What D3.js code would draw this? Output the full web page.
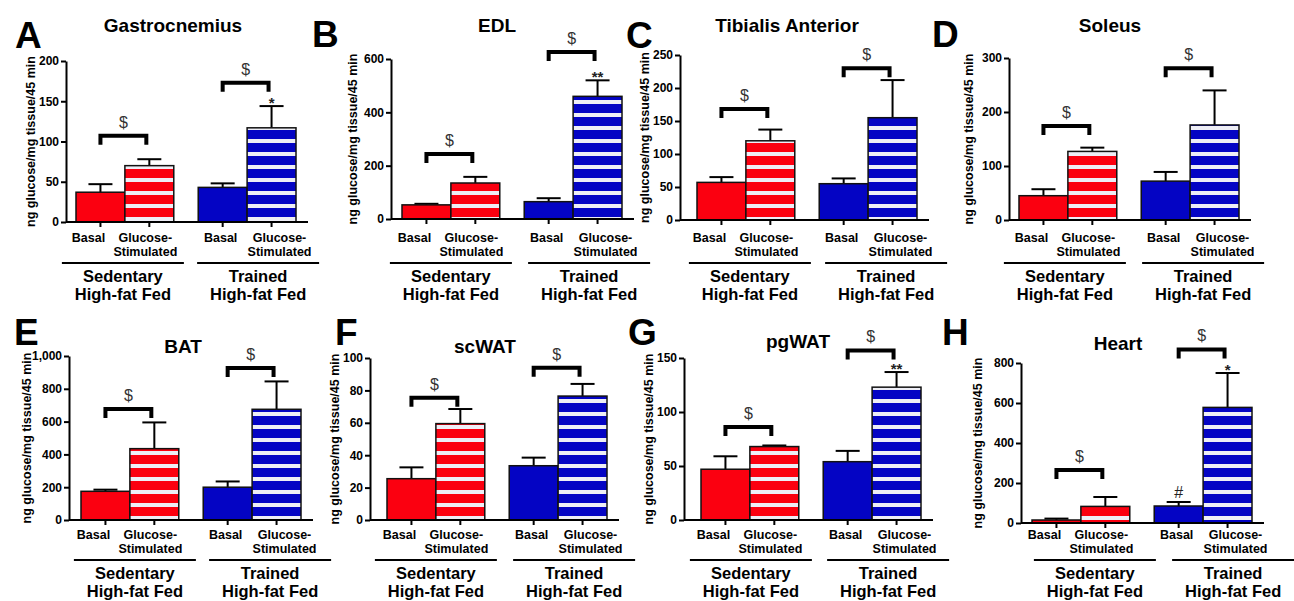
<!DOCTYPE html>
<html>
<head>
<meta charset="utf-8">
<script src="https://cdn.jsdelivr.net/npm/d3@7"></script>
<style>
  body { margin: 0; background: #fff; }
  svg text { font-family: "Liberation Sans", Arial, sans-serif; }
</style>
</head>
<body>
<svg id="fig" width="1294" height="601"></svg>
<script>
// data
const letters = ['A', 'B', 'C', 'D', 'E', 'F', 'G', 'H']
const tissues = ['Gastrocnemius', 'EDL', 'Tibialis Anterior', 'Soleus', 'BAT', 'scWAT', 'pgWAT', 'Heart']
const conditions = [['Basal'], ['Glucose-', 'Stimulated']]
const groups = [['Sedentary', 'High-fat Fed'], ['Trained', 'High-fat Fed']]
const yLabel = 'ng glucose/mg tissue/45 min'
const yMax = [200, 600, 250, 300, 1000, 100, 150, 800]
const yStep = [50, 200, 50, 100, 200, 20, 50, 200]
// bars: sed basal, sed glucose, trained basal, trained glucose
const means = [
  [37, 70, 43, 117],
  [53, 135, 65, 460],
  [57, 120, 55, 155],
  [45, 127, 72, 176],
  [175, 435, 200, 675],
  [25.5, 59.5, 33.5, 76.5],
  [47, 68, 54, 123],
  [15, 83, 85, 578]
]
const sems = [
  [10, 8, 5, 27],
  [4, 23, 13, 60],
  [8, 17, 8, 57],
  [12, 7, 17, 64],
  [10, 160, 35, 170],
  [7, 9, 5, 7.5],
  [12, 1, 10, 14],
  [7, 47, 20, 172]
]
// "$" bracket levels (sed, trained), in axis units
const brackets = [
  [107, 173], [244, 626], [168, 230], [174, 281],
  [677, 927], [75.5, 94], [86, 157], [265, 868]
]
const marks = [
  ['', '', '', '*'], ['', '', '', '**'], ['', '', '', ''], ['', '', '', ''],
  ['', '', '', ''], ['', '', '', ''], ['', '', '', '**'], ['', '', '#', '*']
]

// layout of each panel on the page (row = baseline used by the labels underneath)
const layout = [
  {ax: 66, top: 61, bottom: 222, row: 222, barX: 76, lx: 15, ly: 48, tx: 173, ty: 32, yl: 31, grp: [-2, 11]},
  {ax: 391, top: 59, bottom: 219, row: 222, barX: 402, lx: 312, ly: 47, tx: 497, ty: 32, yl: 353, grp: [0, 16]},
  {ax: 680, top: 55, bottom: 220, row: 222, barX: 697, lx: 626, ly: 48, tx: 787, ty: 32, yl: 645, grp: [4, 18]},
  {ax: 1009, top: 58, bottom: 220, row: 222, barX: 1019, lx: 932, ly: 47, tx: 1110, ty: 32, yl: 969, grp: [-3, 13]},
  {ax: 69, top: 356, bottom: 520, row: 519, barX: 81, lx: 14, ly: 345, tx: 183, ty: 353, yl: 27, grp: [5, 18]},
  {ax: 370, top: 358, bottom: 520, row: 519, barX: 387, lx: 335, ly: 345, tx: 485, ty: 353, yl: 335, grp: [0, 16]},
  {ax: 684, top: 358, bottom: 520, row: 519, barX: 701, lx: 628, ly: 345, tx: 798, ty: 348, yl: 649, grp: [1, 16]},
  {ax: 1021, top: 363, bottom: 523, row: 519, barX: 1032, lx: 942, ly: 345, tx: 1118, ty: 350, yl: 978, grp: [14, 30]}
]

const RED = '#fb0010', BLUE = '#0404c4', STRIPE = '#eeeef6'
const slots = [0, 1, 2.5, 3.5]
const labelShift = [-12, -4, -2, 8]

const svg = d3.select('#fig')
const defs = svg.append('defs')
;[['stripeRed', RED], ['stripeBlue', BLUE]].forEach(([id, c]) => {
  const p = defs.append('pattern').attr('id', id)
    .attr('patternUnits', 'userSpaceOnUse')
    .attr('width', 10).attr('height', 13)
  p.append('rect').attr('width', 10).attr('height', 13).attr('fill', c)
  p.append('rect').attr('y', 9).attr('width', 10).attr('height', 4).attr('fill', STRIPE)
})

const fillFor = i => [RED, 'url(#stripeRed)', BLUE, 'url(#stripeBlue)'][i]

letters.forEach((letter, p) => {
  const L = layout[p]
  const g = svg.append('g')

  const y = d3.scaleLinear().domain([0, yMax[p]]).range([L.bottom, L.top])
  const x = d3.scaleLinear().domain([0, 4.5]).range([L.barX, L.barX + 220])
  const bw = x(1) - x(0)
  const xEnd = x(4.5) + 12

  // panel letter + title
  g.append('text').attr('x', L.lx).attr('y', L.ly)
    .attr('font-size', 37).attr('font-weight', 'bold').text(letter)
  g.append('text').attr('x', L.tx).attr('y', L.ty).attr('text-anchor', 'middle')
    .attr('font-size', 19).attr('font-weight', 'bold').text(tissues[p])

  // y axis
  const yAxis = g.append('g')
    .attr('transform', 'translate(' + L.ax + ',0)')
    .call(d3.axisLeft(y).tickValues(d3.range(0, yMax[p] + 1e-9, yStep[p]))
      .tickSize(5).tickSizeOuter(0).tickPadding(2))
  yAxis.select('.domain').attr('stroke-width', 2)
  yAxis.selectAll('.tick line').attr('stroke-width', 2)
  yAxis.selectAll('.tick text').attr('font-size', 12).attr('font-weight', 'bold')
    .attr('fill', '#000').style('font-family', '"Liberation Sans", Arial, sans-serif')

  g.append('text')
    .attr('transform', 'translate(' + L.yl + ',' + (L.top + L.bottom) / 2 + ') rotate(-90)')
    .attr('text-anchor', 'middle').attr('dy', '0.35em')
    .attr('font-size', 12.5).attr('font-weight', 'bold').text(yLabel)

  // bars
  const bars = means[p].map((m, i) => ({m: m, e: sems[p][i], i: i, cx: x(slots[i]) + bw / 2}))

  // error bars (upper only)
  bars.forEach(d => {
    g.append('line').attr('x1', d.cx).attr('x2', d.cx)
      .attr('y1', y(d.m)).attr('y2', y(d.m + d.e))
      .attr('stroke', '#000').attr('stroke-width', 2)
    g.append('line').attr('x1', d.cx - 12).attr('x2', d.cx + 12)
      .attr('y1', y(d.m + d.e)).attr('y2', y(d.m + d.e))
      .attr('stroke', '#000').attr('stroke-width', 2)
  })

  g.selectAll('rect.bar').data(bars).enter().append('rect')
    .attr('class', 'bar')
    .attr('x', d => x(slots[d.i]))
    .attr('y', d => y(d.m))
    .attr('width', bw)
    .attr('height', d => y(0) - y(d.m))
    .attr('fill', d => fillFor(d.i))
    .attr('stroke', '#111').attr('stroke-width', 1.5)

  // x axis line with ticks at bar centres
  g.append('line').attr('x1', L.ax).attr('x2', xEnd)
    .attr('y1', L.bottom).attr('y2', L.bottom)
    .attr('stroke', '#000').attr('stroke-width', 2)
  bars.forEach(d => {
    g.append('line').attr('x1', d.cx).attr('x2', d.cx)
      .attr('y1', L.bottom).attr('y2', L.bottom + 5)
      .attr('stroke', '#000').attr('stroke-width', 2)
  })

  // significance marks over bars
  bars.forEach(d => {
    const s = marks[p][d.i]
    if (!s) return
    g.append('text').attr('x', d.cx).attr('y', y(d.m + d.e) + (s == '#' ? -4 : 2))
      .attr('text-anchor', 'middle')
      .attr('font-size', s == '#' ? 16 : 15).attr('font-weight', s == '#' ? 'normal' : 'bold')
      .attr('fill', '#222').text(s)
  })

  // "$" brackets
  brackets[p].forEach((lvl, k) => {
    const x1 = bars[2 * k].cx, x2 = bars[2 * k + 1].cx - 3
    const by = y(lvl)
    g.append('path')
      .attr('d', 'M' + x1 + ',' + (by + 9) + 'V' + by + 'H' + x2 + 'V' + (by + 9))
      .attr('fill', 'none').attr('stroke', '#000').attr('stroke-width', 4)
    g.append('text').attr('x', (x1 + x2) / 2).attr('y', by - 8)
      .attr('text-anchor', 'middle').attr('font-size', 16).attr('fill', '#333').text('$')
  })

  // category labels
  bars.forEach(d => {
    const lines = conditions[d.i % 2]
    lines.forEach((t, j) => {
      g.append('text').attr('x', d.cx + labelShift[d.i]).attr('y', L.row + 20 + j * 14)
        .attr('text-anchor', 'middle').attr('font-size', 12.5).attr('font-weight', 'bold').text(t)
    })
  })

  // group labels under a rule
  groups.forEach((grp, k) => {
    const c = (bars[2 * k].cx + bars[2 * k + 1].cx) / 2 + L.grp[k]
    g.append('line').attr('x1', c - 61).attr('x2', c + 61)
      .attr('y1', L.row + 41).attr('y2', L.row + 41)
      .attr('stroke', '#000').attr('stroke-width', 2)
    grp.forEach((t, j) => {
      g.append('text').attr('x', c).attr('y', L.row + 59.5 + j * 18.5)
        .attr('text-anchor', 'middle').attr('font-size', 16.5).attr('font-weight', 'bold').text(t)
    })
  })
})
</script>
</body>
</html>
